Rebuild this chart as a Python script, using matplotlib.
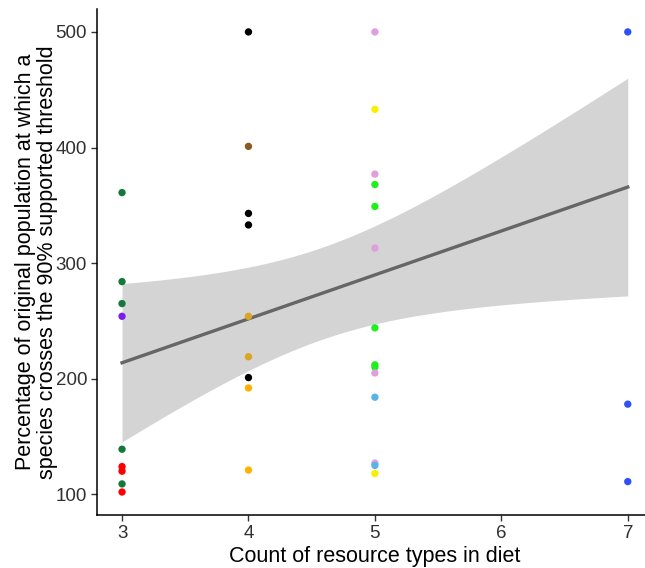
import numpy as np
import matplotlib.pyplot as plt

plt.rcParams['font.family'] = ['Liberation Sans', 'DejaVu Sans']

# Punkty: liczba typów zasobów w diecie i wartość progowa (%)
diet_count = [3, 3, 3, 3, 3, 3, 3, 3, 3,
              4, 4, 4, 4, 4, 4, 4, 4, 4,
              5, 5, 5, 5, 5, 5, 5, 5, 5, 5, 5, 5, 5, 5,
              7, 7, 7]
threshold = [361, 284, 265, 254, 139, 124, 120, 109, 102,
             500, 401, 343, 333, 254, 219, 201, 192, 121,
             500, 433, 377, 368, 349, 313, 244, 212, 210, 205, 184, 127, 125, 118,
             500, 178, 111]
point_color = ['#12793a', '#12793a', '#12793a', '#7a1ee8', '#12793a', '#ff0000', '#ff0000', '#12793a', '#ff0000',
               '#000000', '#8c5a1e', '#000000', '#000000', '#daa520', '#daa520', '#000000', '#ffb000', '#ffb000',
               '#dda0dd', '#f8f000', '#dda0dd', '#1ef01e', '#1ef01e', '#dda0dd', '#1ef01e', '#1ef01e', '#1ef01e',
               '#dda0dd', '#56b4e9', '#dda0dd', '#56b4e9', '#f8f000',
               '#3050f8', '#3050f8', '#3050f8']

# Linia trendu i przedział ufności
fit_x = [3, 7]
fit_y = [213.8, 365.8]
ci_center_x = 4.58   # miejsce najwęższego przedziału
ci_min_half = 39.8   # półszerokość w najwęższym miejscu
ci_spread = 1244.0   # przyrost kwadratu półszerokości

x_ticks = [3, 4, 5, 6, 7]
y_ticks = [100, 200, 300, 400, 500]

fig = plt.figure(figsize=(6.45, 5.68), dpi=100)
ax = fig.add_axes([0.150, 0.0933, 0.8625, 0.891])

# Pas przedziału ufności
xs = np.linspace(fit_x[0], fit_x[1], 100)
slope = (fit_y[1] - fit_y[0]) / (fit_x[1] - fit_x[0])
ys = fit_y[0] + slope * (xs - fit_x[0])
half = np.sqrt(ci_min_half**2 + ci_spread * (xs - ci_center_x)**2)
ax.fill_between(xs, ys - half, ys + half, color='#d4d4d4', lw=0, zorder=1)
ax.plot(xs, ys, color='#666666', lw=2.4, zorder=2)

ax.scatter(diet_count, threshold, c=point_color, s=28, lw=0, zorder=3)

ax.set_xlim(2.8, 7.2)
ax.set_ylim(82.1, 519.9)
ax.set_xticks(x_ticks)
ax.set_yticks(y_ticks)
ax.spines['top'].set_visible(False)
ax.spines['right'].set_visible(False)
for s in ['left', 'bottom']:
    ax.spines[s].set_linewidth(1.1)
ax.tick_params(length=4, width=1, color='#333333', labelsize=13.5, labelcolor='#303030', pad=3)

ax.set_xlabel("Count of resource types in diet", fontsize=15.5, labelpad=3)
ax.set_ylabel("Percentage of original population at which a\nspecies crosses the 90% supported threshold",
              fontsize=15.5, labelpad=-2, linespacing=1.1)

fig.savefig('out.png', dpi=100)
